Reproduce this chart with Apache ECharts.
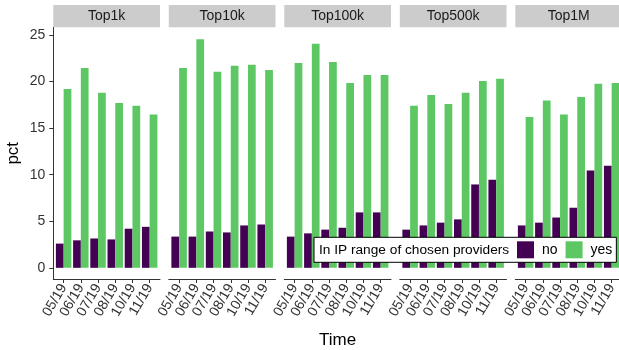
<!DOCTYPE html>
<html>
<head>
<meta charset="utf-8">
<script src="https://cdn.jsdelivr.net/npm/echarts@6/dist/echarts.min.js"></script>
<style>
html,body{margin:0;padding:0;background:#fff;}
#c{width:619px;height:350px;}
</style>
</head>
<body>
<div id="c"></div>
<script>
const panels = ['Top1k', 'Top10k', 'Top100k', 'Top500k', 'Top1M'];
const times = ['05/19', '06/19', '07/19', '08/19', '10/19', '11/19'];
const yTicks = [0, 5, 10, 15, 20, 25];
const seriesNames = ['no', 'yes'];
const noTop1k   = [2.6, 2.95, 3.15, 3.05, 4.2, 4.4];
const yesTop1k  = [19.2, 21.45, 18.8, 17.7, 17.4, 16.45];
const noTop10k  = [3.35, 3.35, 3.9, 3.8, 4.55, 4.65];
const yesTop10k = [21.45, 24.55, 21.05, 21.7, 21.8, 21.25];
const noTop100k  = [3.35, 3.7, 4.1, 4.3, 5.95, 5.95];
const yesTop100k = [22.0, 24.05, 22.1, 19.85, 20.7, 20.7];
const noTop500k  = [4.1, 4.55, 4.85, 5.2, 8.95, 9.45];
const yesTop500k = [17.4, 18.55, 17.6, 18.8, 20.05, 20.3];
const noTop1M  = [4.55, 4.85, 5.4, 6.45, 10.45, 10.95];
const yesTop1M = [16.2, 17.95, 16.45, 18.35, 19.75, 19.85];

const noValues = [noTop1k, noTop10k, noTop100k, noTop500k, noTop1M];
const yesValues = [yesTop1k, yesTop10k, yesTop100k, yesTop500k, yesTop1M];

const FONT = '"Liberation Sans", Arial, Helvetica, sans-serif';
const L0 = 53.3, STEP = 115.5, W = 106.7, TOP = 27.5, H = 251.5;
const XMIN = 0.4, XMAX = 6.6;
const barW = 0.45 * W / (XMAX - XMIN);
const COL_NO = '#440154', COL_YES = '#5DC863';
const AX = '#333333';

const grids = panels.map((p, i) => ({
  left: L0 + i * STEP, top: TOP, width: W, height: H,
  containLabel: false, outerBoundsMode: 'none'
}));
const xAxes = panels.map((p, i) => ({
  type: 'value', gridIndex: i, min: XMIN, max: XMAX,
  axisLine: { show: true, onZero: false, lineStyle: { color: AX, width: 1 } },
  axisTick: { show: true, length: 4, lineStyle: { color: AX }, customValues: times.map((t, j) => j + 1) },
  axisLabel: {
    customValues: times.map((t, j) => j + 1),
    formatter: v => times[Math.round(v) - 1],
    rotate: 60, fontSize: 14, color: AX, margin: 6, fontFamily: FONT
  },
  splitLine: { show: false },
  name: i === 2 ? 'Time' : '', nameLocation: 'middle', nameGap: 53,
  nameTextStyle: { fontSize: 17, color: '#000', fontFamily: FONT }
}));
const yAxes = panels.map((p, i) => ({
  type: 'value', gridIndex: i, min: -1.2, max: 25.8,
  axisLine: { show: i === 0, onZero: false, lineStyle: { color: AX, width: 1 } },
  axisTick: { show: i === 0, length: 4, lineStyle: { color: AX }, customValues: yTicks },
  axisLabel: { show: i === 0, customValues: yTicks, fontSize: 14, color: AX, margin: 8, fontFamily: FONT },
  splitLine: { show: false },
  name: i === 0 ? 'pct' : '', nameLocation: 'middle', nameGap: 31, nameRotate: 90,
  nameTextStyle: { fontSize: 17, color: '#000', fontFamily: FONT }
}));
const series = [];
panels.forEach((p, i) => {
  series.push({
    name: seriesNames[0], type: 'bar', xAxisIndex: i, yAxisIndex: i,
    data: noValues[i].map((v, j) => [j + 1, v]),
    barWidth: barW, barGap: '0%', itemStyle: { color: COL_NO }
  });
  series.push({
    name: seriesNames[1], type: 'bar', xAxisIndex: i, yAxisIndex: i,
    data: yesValues[i].map((v, j) => [j + 1, v]),
    barWidth: barW, barGap: '0%', itemStyle: { color: COL_YES }
  });
});
const graphics = [];
panels.forEach((p, i) => {
  graphics.push({
    type: 'rect', shape: { x: L0 + i * STEP, y: 5, width: W, height: 22.3 },
    style: { fill: '#cccccc' }, silent: true
  });
  graphics.push({
    type: 'text', x: L0 + i * STEP + W / 2, y: 16.5,
    style: { text: p, fill: '#1a1a1a', font: '14px ' + FONT, align: 'center', verticalAlign: 'middle' },
    silent: true
  });
});
graphics.push({
  type: 'text', x: 319, y: 250, z: 100,
  style: { text: 'In IP range of chosen providers', fill: '#000', font: '13.7px ' + FONT, align: 'left', verticalAlign: 'middle' },
  silent: true
});

const chart = echarts.init(document.getElementById('c'));
chart.setOption({
  animation: false,
  backgroundColor: '#fff',
  grid: grids, xAxis: xAxes, yAxis: yAxes, series: series,
  legend: {
    data: seriesNames, left: 314, top: 237.3, orient: 'horizontal',
    padding: [4, 4, 4, 203], itemWidth: 17, itemHeight: 17, itemGap: 8,
    icon: 'rect', backgroundColor: '#fff', borderColor: '#000', borderWidth: 1,
    textStyle: { fontSize: 14, color: '#000', fontFamily: FONT, padding: [0, 0, 0, 3] },
    selectedMode: false, z: 10
  },
  graphic: graphics
});
</script>
</body>
</html>
